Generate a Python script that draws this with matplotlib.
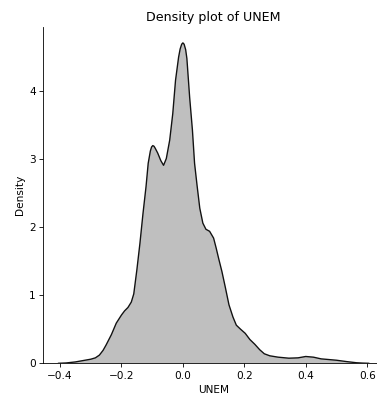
import matplotlib
matplotlib.use("Agg")
import matplotlib.pyplot as plt

# Estimated kernel density of UNEM, sampled along the support
unem = [-0.405, -0.38, -0.35, -0.325, -0.30, -0.285, -0.272, -0.26, -0.25, -0.233,
        -0.217, -0.20, -0.19, -0.179, -0.168, -0.16, -0.15, -0.14, -0.13, -0.12,
        -0.113, -0.106, -0.102, -0.098, -0.094, -0.09, -0.082, -0.072, -0.063, -0.054,
        -0.043, -0.033, -0.024, -0.014, -0.009, -0.004, 0.0, 0.004, 0.009, 0.013,
        0.022, 0.031, 0.038, 0.046, 0.055, 0.065, 0.075, 0.087, 0.100, 0.108,
        0.117, 0.127, 0.138, 0.150, 0.163, 0.174, 0.188, 0.203, 0.218, 0.234,
        0.25, 0.265, 0.283, 0.31, 0.345, 0.375, 0.40, 0.425, 0.45, 0.50,
        0.533, 0.565, 0.585, 0.605]
density = [0.0, 0.005, 0.02, 0.04, 0.06, 0.08, 0.12, 0.19, 0.27, 0.42,
           0.59, 0.71, 0.77, 0.82, 0.90, 1.02, 1.37, 1.76, 2.20, 2.60,
           2.94, 3.12, 3.18, 3.20, 3.19, 3.16, 3.09, 2.98, 2.91, 3.01,
           3.28, 3.67, 4.16, 4.50, 4.62, 4.69, 4.71, 4.69, 4.61, 4.48,
           3.91, 3.43, 2.94, 2.62, 2.28, 2.06, 1.97, 1.94, 1.84, 1.70,
           1.53, 1.35, 1.12, 0.86, 0.68, 0.56, 0.50, 0.44, 0.35, 0.28,
           0.20, 0.14, 0.11, 0.09, 0.075, 0.08, 0.10, 0.09, 0.065, 0.045,
           0.025, 0.008, 0.003, 0.0]
x_ticks = [-0.4, -0.2, 0.0, 0.2, 0.4, 0.6]
y_ticks = [0, 1, 2, 3, 4]

fig = plt.figure(figsize=(5.0, 5.28), dpi=75.4)
ax = fig.add_axes([0.1141, 0.0872, 0.905, 0.845])

ax.fill_between(unem, density, 0, facecolor="#bfbfbf", edgecolor="none")
ax.plot(unem, density, color="#111111", linewidth=1.3, solid_joinstyle="round")

ax.set_xlim(-0.4555, 0.6555)
ax.set_ylim(0, 4.945)
ax.set_xticks(x_ticks)
ax.set_yticks(y_ticks)
ax.set_xlabel("UNEM")
ax.set_ylabel("Density")
ax.set_title("Density plot of UNEM")
ax.spines["top"].set_visible(False)
ax.spines["right"].set_visible(False)

fig.savefig("out.png", dpi=75.4)
